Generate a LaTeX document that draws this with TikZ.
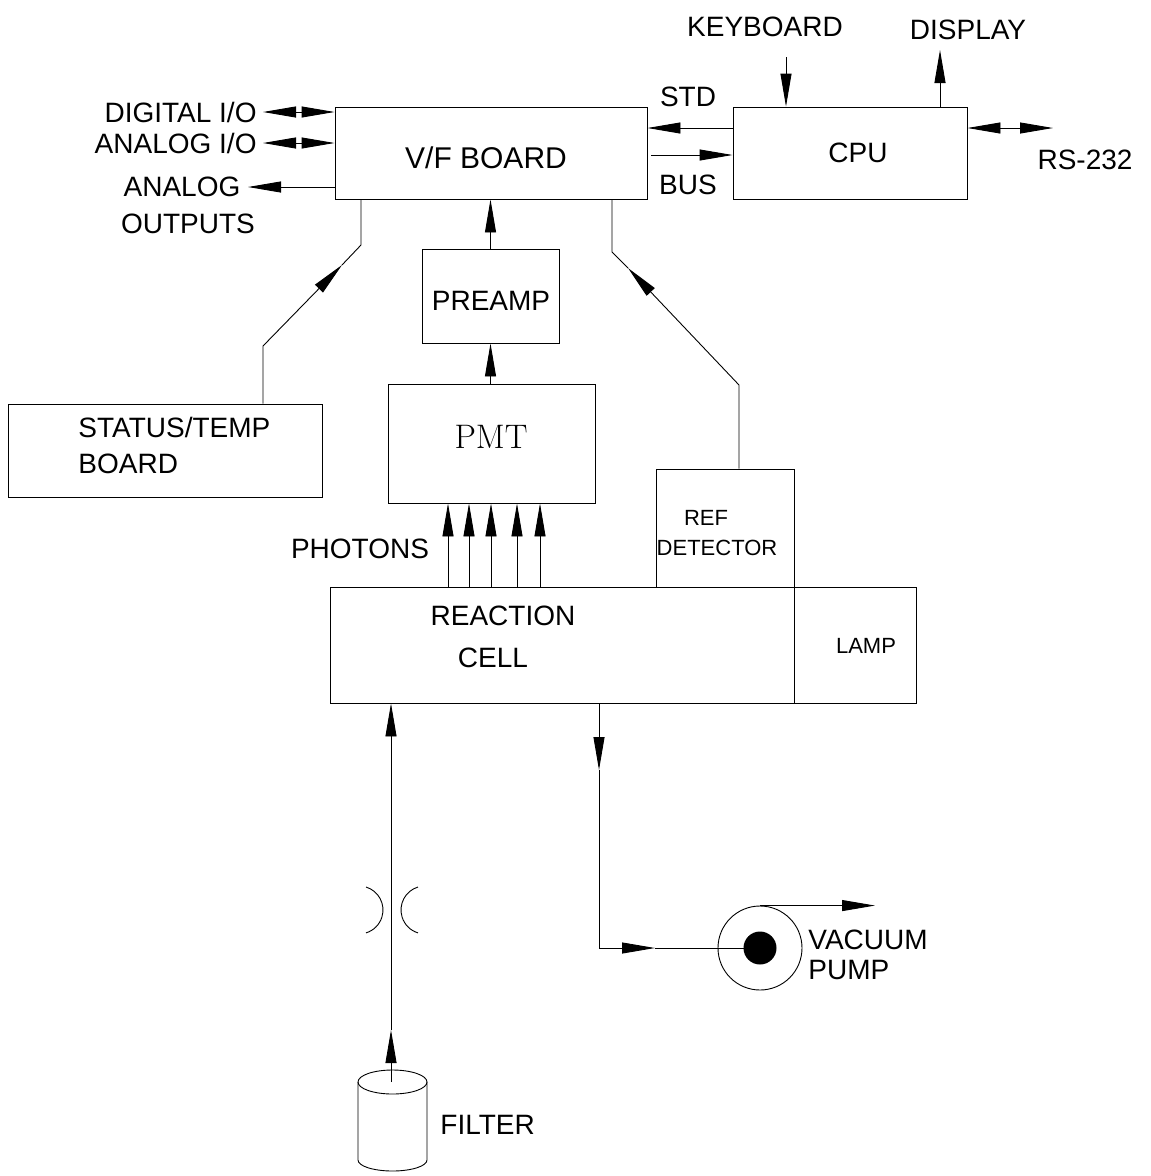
\documentclass[tikz,border=0pt]{standalone}
\usepackage{fontspec}
\setsansfont{Liberation Sans}
\usetikzlibrary{arrows.meta}
\begin{document}
\begin{tikzpicture}[x=1pt,y=-1pt,line width=0.9pt,
  box/.style={draw,rectangle,inner sep=0pt},
  lbl/.style={font=\sffamily\fontsize{28}{30}\selectfont,inner sep=0pt},
  sml/.style={font=\sffamily\fontsize{22}{24}\selectfont,inner sep=0pt},
  tip/.tip={Triangle[length=33pt,width=11pt]},
  arr/.style={-tip},
  dbl/.style={tip-tip}]
\useasboundingbox (0,0) rectangle (1151,1176);
% boxes
\node[box,minimum width=312pt,minimum height=92pt] (vf) at (491,153) {};
\node[box,minimum width=234pt,minimum height=92pt] (cpu) at (850,153) {};
\node[box,minimum width=314pt,minimum height=93pt] (st) at (165,450.5) {};
\node[box,minimum width=137pt,minimum height=94pt] (pre) at (490.5,296) {};
\node[box,minimum width=207pt,minimum height=119pt] (pmt) at (491.5,443.5) {};
\node[box,minimum width=138pt,minimum height=118pt] (ref) at (725,528) {};
\node[box,minimum width=464pt,minimum height=116pt] (rc) at (562,645) {};
\node[box,minimum width=122pt,minimum height=116pt] (lamp) at (855,645) {};
\node[draw,circle,minimum size=84pt,inner sep=0pt] (pump) at (760,948) {};
\node[fill,circle,minimum size=33pt,inner sep=0pt] (pin) at (760,948) {};
% texts
\node[lbl,font=\sffamily\fontsize{30}{32}\selectfont] (tvf) at (486,158) {V/F BOARD};
\node[lbl] (tcpu) at (858,153) {CPU};
\node[lbl] (tstd) at (688,97) {STD};
\node[lbl] (tbus) at (688,185) {BUS};
\node[lbl] (tkb) at (765,27) {KEYBOARD};
\node[lbl] (tdp) at (968,30) {DISPLAY};
\node[lbl] (trs) at (1085,160) {RS-232};
\node[lbl,anchor=east] (tdio) at (257,112) {DIGITAL I/O};
\node[lbl,anchor=east] (taio) at (257,143) {ANALOG I/O};
\node[lbl] (tao1) at (182,187) {ANALOG};
\node[lbl] (tao2) at (188,224) {OUTPUTS};
\node[lbl,anchor=west] (tst1) at (78,427) {STATUS/TEMP};
\node[lbl,anchor=west] (tst2) at (78,464) {BOARD};
\node[lbl] (tpre) at (491,301) {PREAMP};
\node[font=\rmfamily\fontsize{34}{36}\selectfont,inner sep=0pt] (tpmt) at (491,437) {PMT};
\node[lbl] (tph) at (360,549) {PHOTONS};
\node[sml] (tref1) at (706,518) {REF};
\node[sml] (tref2) at (717,548) {DETECTOR};
\node[lbl] (trc1) at (503,616) {REACTION};
\node[lbl] (trc2) at (493,658) {CELL};
\node[sml] (tlamp) at (866,646) {LAMP};
\node[lbl,anchor=west] (tvp1) at (808,940) {VACUUM};
\node[lbl,anchor=west] (tvp2) at (808,970) {PUMP};
\node[lbl,anchor=west] (tfil) at (440,1125) {FILTER};
% CPU / V/F connectors
\draw[arr] ([yshift=25pt]cpu.west) -- ([yshift=25pt]vf.east);
\draw[arr] ([xshift=4pt,yshift=-2pt]vf.east) -- ([yshift=-2pt]cpu.west);
\coordinate (kb) at (786,57);
\draw[arr] (kb) -- (kb |- cpu.north);
\coordinate (dp) at (940,50);
\draw[arr] (dp |- cpu.north) -- (dp);
\coordinate (rs) at (1053,128);
\draw[dbl] (rs -| cpu.east) -- (rs);
\coordinate (dio) at (263,112);
\draw[dbl] (dio) -- (dio -| vf.west);
\coordinate (aio) at (263,143);
\draw[dbl] (aio) -- (aio -| vf.west);
\coordinate (ao) at (248,187);
\draw[arr] (ao -| vf.west) -- (ao);
% preamp / pmt
\draw[arr] (pre.north) -- (pre.north |- vf.south);
\draw[arr] (pre.south |- pmt.north) -- (pre.south);
\foreach \px in {448,469,491,517,540} {
  \coordinate (ph) at (\px,0);
  \draw[arr] (ph |- rc.north) -- (ph |- pmt.south);
}
% status board link
\coordinate (s1) at (263,346);
\coordinate (s2) at (342,265);
\coordinate (s3) at (361,245);
\draw[arr] (s1 |- st.north) -- (s1) -- (s2);
\draw (s2) -- (s3) -- (s3 |- vf.south);
% ref detector link
\coordinate (r1) at (739,385);
\coordinate (r2) at (628,268);
\coordinate (r3) at (612,252);
\draw[arr] (r1 |- ref.north) -- (r1) -- (r2);
\draw (r2) -- (r3) -- (r3 |- vf.south);
% inlet
\coordinate (fin) at (391,1082);
\coordinate (fm) at (391,1030);
\draw[arr] (fin) -- (fm);
\draw[arr] (fm) -- (fm |- rc.south);
\draw (366,887) arc[start angle=-73,end angle=73,radius=24];
\draw (418,887) arc[start angle=253,end angle=107,radius=24];
% filter
\draw (392.5,1082) ellipse[x radius=34.5,y radius=12];
\draw (358,1082) -- (358,1160) arc[start angle=180,end angle=0,x radius=34.5,y radius=11] -- (427,1082);
% outlet
\coordinate (o1) at (599,770);
\coordinate (o2) at (599,948);
\coordinate (o3) at (655,948);
\draw[arr] (o1 |- rc.south) -- (o1);
\draw (o1) -- (o2);
\draw[arr] (o2) -- (o3);
\draw (o3) -- (pin.center);
\coordinate (pe) at (875,903);
\draw[arr] (pump.north) -- (pe |- pump.north);
\end{tikzpicture}
\end{document}
